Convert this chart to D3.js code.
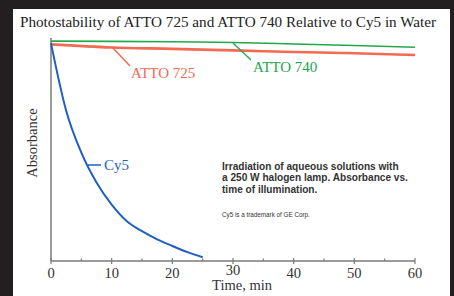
<!DOCTYPE html>
<html>
<meta charset="utf-8">
<head>
<style>
body { margin: 0; background: #231f20; }
.serif { font-family: "Liberation Serif", "Times New Roman", serif; }
.note { font-family: "Liberation Sans", Arial, sans-serif; fill: #333; }
</style>
</head>
<body>
<script src="https://d3js.org/d3.v7.min.js"></script>
<script>

// time (min) and relative absorbance
var cy5Time = [0, 2.5, 5, 7.5, 10, 12.5, 15, 17.5, 20, 22.5, 25];
var cy5Abs  = [0.985, 0.68, 0.49, 0.355, 0.255, 0.18, 0.135, 0.098, 0.068, 0.04, 0.017];

var atto725Time = [0, 10, 20, 30, 40, 50, 60];
var atto725Abs  = [0.98, 0.966, 0.96, 0.953, 0.946, 0.94, 0.932];

var atto740Time = [0, 10, 20, 30, 40, 50, 60];
var atto740Abs  = [0.995, 0.994, 0.992, 0.989, 0.982, 0.975, 0.967];

var majorTicks = [0, 10, 20, 30, 40, 50, 60];
var minorTicks = [5, 15, 25, 35, 45, 55];

var W = 454, H = 296;

var svg = d3.select("body").append("svg")
    .attr("width", W)
    .attr("height", H);

// white panel on the dark frame
svg.append("rect")
    .attr("x", 13).attr("y", 9)
    .attr("width", 437).attr("height", H - 9)
    .attr("fill", "#fff");

var x = d3.scaleLinear().domain([0, 60]).range([51, 415]);
var y = d3.scaleLinear().domain([0, 1]).range([261, 40]);

svg.append("text")
    .attr("class", "serif")
    .attr("x", 20)
    .attr("y", 27)
    .style("font-size", "15px")
    .attr("textLength", 416)
    .attr("lengthAdjust", "spacingAndGlyphs")
    .attr("fill", "#222")
    .text("Photostability of ATTO 725 and ATTO 740 Relative to Cy5 in Water");

// axes
var axisColor = "#7a7a7a";
svg.append("line")
    .attr("x1", x(0)).attr("x2", x(0))
    .attr("y1", 38).attr("y2", y(0))
    .attr("stroke", axisColor).attr("stroke-width", 1.5);

svg.append("line")
    .attr("x1", x(0)).attr("x2", x(60))
    .attr("y1", y(0)).attr("y2", y(0))
    .attr("stroke", axisColor).attr("stroke-width", 1.5);

svg.selectAll(".major")
    .data(majorTicks).enter()
    .append("line")
    .attr("x1", d => x(d)).attr("x2", d => x(d))
    .attr("y1", y(0) - 3).attr("y2", y(0) + 3)
    .attr("stroke", axisColor).attr("stroke-width", 1.2);

svg.selectAll(".minor")
    .data(minorTicks).enter()
    .append("line")
    .attr("x1", d => x(d)).attr("x2", d => x(d))
    .attr("y1", y(0) - 2.5).attr("y2", y(0))
    .attr("stroke", axisColor).attr("stroke-width", 1.2);

svg.selectAll(".tickLabel")
    .data(majorTicks).enter()
    .append("text")
    .attr("class", "serif")
    .attr("x", d => x(d))
    .attr("y", d => d === 30 ? 275 : 278)
    .attr("text-anchor", "middle")
    .style("font-size", "14.5px")
    .attr("fill", "#333")
    .text(d => d);

svg.append("text")
    .attr("class", "serif")
    .attr("x", 242)
    .attr("y", 290)
    .attr("text-anchor", "middle")
    .style("font-size", "14.5px")
    .attr("fill", "#333")
    .text("Time, min");

svg.append("text")
    .attr("class", "serif")
    .attr("transform", "translate(37,143) rotate(-90)")
    .attr("text-anchor", "middle")
    .style("font-size", "14.5px")
    .attr("fill", "#333")
    .text("Absorbance");

// series
var line = d3.line()
    .x(d => x(d[0]))
    .y(d => y(d[1]))
    .curve(d3.curveMonotoneX);

var series = [
  {t: atto740Time, a: atto740Abs, color: "#22a84a", w: 1.6},
  {t: atto725Time, a: atto725Abs, color: "#f26a52", w: 2.6},
  {t: cy5Time, a: cy5Abs, color: "#1f5fc4", w: 2}
];

series.forEach(function(s) {
  svg.append("path")
      .datum(s.t.map((t, i) => [t, s.a[i]]))
      .attr("d", line)
      .attr("fill", "none")
      .attr("stroke", s.color)
      .attr("stroke-width", s.w);
});

// labels with leader lines
svg.append("line")
    .attr("x1", 112).attr("y1", 47).attr("x2", 130).attr("y2", 66)
    .attr("stroke", "#f26a52").attr("stroke-width", 1.5);
svg.append("text")
    .attr("class", "serif")
    .attr("x", 131).attr("y", 78)
    .style("font-size", "15px")
    .attr("fill", "#f26a52")
    .text("ATTO 725");

svg.append("line")
    .attr("x1", 233).attr("y1", 43).attr("x2", 251).attr("y2", 60)
    .attr("stroke", "#22a84a").attr("stroke-width", 1.3);
svg.append("text")
    .attr("class", "serif")
    .attr("x", 253).attr("y", 72)
    .style("font-size", "15px")
    .attr("fill", "#22a84a")
    .text("ATTO 740");

svg.append("line")
    .attr("x1", 88).attr("y1", 165).attr("x2", 101).attr("y2", 165)
    .attr("stroke", "#1f5fc4").attr("stroke-width", 1.5);
svg.append("text")
    .attr("class", "serif")
    .attr("x", 104).attr("y", 169.5)
    .style("font-size", "15px")
    .attr("fill", "#1f5fc4")
    .text("Cy5");

// note
var noteLines = ["Irradiation of aqueous solutions with",
                 "a 250 W halogen lamp. Absorbance vs.",
                 "time of illumination."];
svg.selectAll(".noteLine")
    .data(noteLines).enter()
    .append("text")
    .attr("class", "note")
    .attr("x", 222)
    .attr("y", (d, i) => 170 + i * 11.4)
    .style("font-size", "10.1px")
    .style("font-weight", "bold")
    .text(d => d);

svg.append("text")
    .attr("class", "note")
    .attr("x", 222)
    .attr("y", 216.5)
    .style("font-size", "6.3px")
    .text("Cy5 is a trademark of GE Corp.");

</script>
</body>
</html>
